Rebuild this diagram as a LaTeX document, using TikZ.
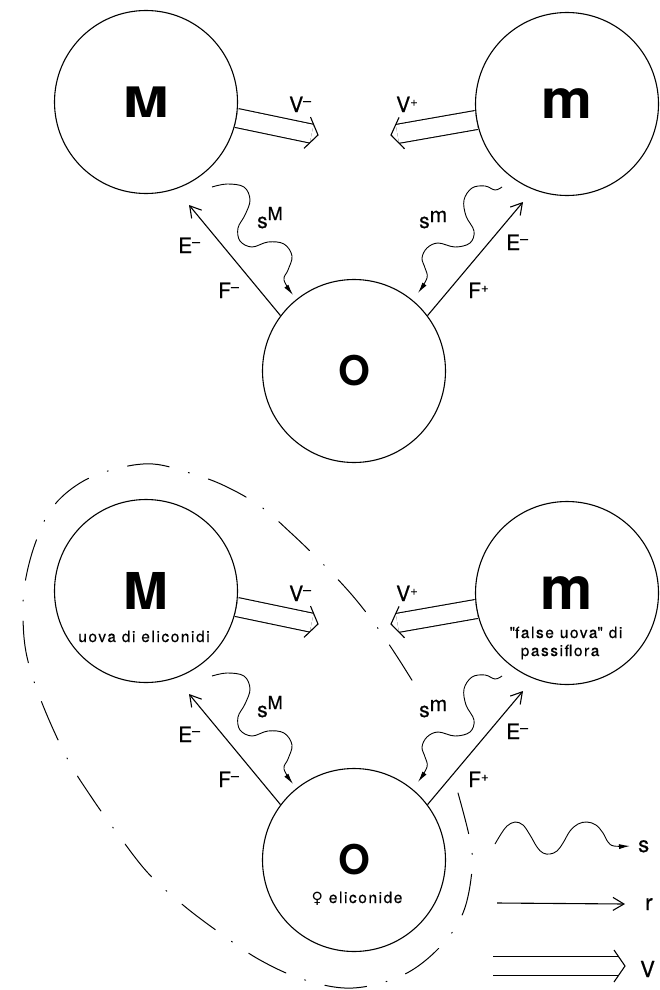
\documentclass[tikz,border=0pt]{standalone}
\usepackage{fontspec}
\setmainfont{TeX Gyre Heros}
\newfontfamily\symfont{DejaVu Sans}
\usetikzlibrary{arrows.meta,calc}
\pgfdeclarelayer{bg}
\pgfsetlayers{bg,main}
\newcommand\sminus{\raisebox{6.5pt}{\fontsize{14}{14}\selectfont –}}
\newcommand\splus{\raisebox{6pt}{\fontsize{13}{13}\selectfont +}}
\newcommand\bigletter[3]{\scalebox{#2}[1]{\fontsize{#1}{#1}\selectfont\bfseries #3}}
\tikzset{
  circ/.style={circle, draw, line width=1.1pt, minimum size=183pt, inner sep=0pt},
  lab/.style={font=\fontsize{21}{21}\selectfont\addfontfeature{FakeBold=0.6}, inner sep=0pt, anchor=base west},
  leglab/.style={font=\fontsize{22}{22}\selectfont\addfontfeature{FakeBold=0.6}, inner sep=0pt, anchor=base west},
  sub/.style={font=\fontsize{15.5}{15.5}\selectfont\addfontfeature{LetterSpace=10,FakeBold=0.4}, inner sep=0pt, anchor=base},
  straightarr/.style={line width=1.1pt, -{Straight Barb[length=11pt,width=13pt]}},
  wavearr/.style={line width=0.9pt, -{Latex[length=11pt,width=5pt]}},
  dblline/.style={double, double distance=18pt, line width=1.1pt},
  chev/.style={line width=1.1pt, line join=miter},
  dashdotline/.style={line width=1pt, line cap=round, dash pattern=on 42pt off 20pt on 1pt off 20pt},
}
% double (hollow) arrow from #1 to #2
\newcommand\dblarrow[2]{%
  \begin{pgfonlayer}{bg}
    \draw[dblline] (#1) -- ($(#2)!6.5pt!(#1)$);
  \end{pgfonlayer}
  \draw[chev] ($(#2)!11pt!(#1)!16pt!90:(#2)$) -- (#2) -- ($(#2)!11pt!(#1)!16pt!-90:(#2)$);
}
\newcommand\triad{%
  \node[circ] (Mc) at (146,102) {};
  \node[circ] (mc) at (567,104) {};
  \node[circ] (Oc) at (354,371) {};
  \coordinate (vmtip) at (318,135);
  \coordinate (vptip) at (391,135);
  \dblarrow{Mc.-10.6}{vmtip}
  \dblarrow{mc.190.8}{vptip}
  \coordinate (eltip) at (189,205);
  \coordinate (ertip) at (523,202);
  \draw[straightarr] (Oc.143.1) -- (eltip);
  \draw[straightarr] (Oc.37.8) -- (ertip);
  \coordinate (sMs) at (212,187);
  \coordinate (sMe) at (293,295);
  \draw[wavearr] plot[smooth, tension=0.6] coordinates {(sMs) (227,184) (244,187) (250,200) (245,215) (238,228) (240,241) (252,247) (268,242) (284,244) (292,256) (288,270) (284,280) (sMe)};
  \coordinate (sms) at (502,187);
  \coordinate (sme) at (418,293);
  \draw[wavearr] plot[smooth, tension=0.6] coordinates {(sms) (495,190) (485,186) (472,188) (464,200) (466,216) (474,231) (470,243) (455,247) (438,243) (427,248) (422,258) (425,268) (427,278) (sme)};
  \node[lab] (lvm) at (289,112) {V\sminus};
  \node[lab] (lvp) at (396,112) {V\splus};
  \node[lab] (lsM) at (257,228) {s\raisebox{8pt}{\fontsize{18}{18}\selectfont M}};
  \node[lab] (lsm) at (419,228) {s\raisebox{6pt}{m}};
  \node[lab] (lel) at (178,253) {E\sminus};
  \node[lab] (lfl) at (218,298) {F\sminus};
  \node[lab] (ler) at (506,250) {E\sminus};
  \node[lab] (lfr) at (468,298) {F\splus};
}
\begin{document}
\begin{tikzpicture}[x=1pt,y=-1pt]
\useasboundingbox (0,0) rectangle (659,990);
\begin{pgfonlayer}{bg}
  \fill[white] (0,0) rectangle (659,990);
\end{pgfonlayer}
\begin{scope}[name prefix=t-]
  \triad
  \node (tM) at (Mc.center) {\bigletter{42}{1.3}{M}};
  \node (tm) at (mc.center) {\bigletter{54.5}{1.05}{m}};
  \node (tO) at (Oc.center) {\bigletter{41}{1}{O}};
\end{scope}
\begin{scope}[yshift=-489pt, name prefix=b-]
  \triad
  \node (bM) at (Mc.center) {\bigletter{50.8}{1.06}{M}};
  \node (bm) at (mc.center) {\bigletter{60}{0.98}{m}};
  \node (bO) at (Oc.center) {\bigletter{41}{1}{O}};
  \node[sub] (Msub) at ([yshift=-51pt,xshift=-2pt]Mc.center) {uova di eliconidi};
  \node[sub] (msub1) at ([yshift=-45pt,xshift=-1pt]mc.center) {\textquotedbl false uova\textquotedbl{} di};
  \node[sub] (msub2) at ([yshift=-63pt,xshift=-7pt]mc.center) {passiflora};
  \node[sub] (Osub) at ([yshift=-43pt,xshift=3pt]Oc.center) {{\symfont ♀} eliconide};
\end{scope}
\draw[dashdotline] plot[smooth, tension=0.6] coordinates {(458,793) (470,840) (472,870) (463,913) (440,947) (403,975) (353,988) (305,980) (260,960) (220,933) (183,905) (148,873) (117,833) (92,798) (67,758) (42,703) (27,657) (23,618) (25,583) (35,544) (52,508) (80,483) (115,469) (153,464) (193,474) (225,486) (260,506) (291,533) (322,563) (352,595) (377,627) (398,658) (418,690)};
\coordinate (ws) at (495,844);
\coordinate (we) at (630,846);
\draw[wavearr] plot[smooth, tension=0.6] coordinates {(ws) (501,834) (507,826) (515,822) (523,825) (530,835) (537,847) (543,853) (550,854) (557,851) (563,843) (570,831) (578,824) (587,822) (596,825) (603,833) (608,842) (614,846) (we)};
\node[leglab] (ls) at (638,852) {s};
\coordinate (rs) at (497,903);
\coordinate (re) at (625,904);
\draw[straightarr] (rs) -- (re);
\node[leglab] (lr) at (645,910) {r};
\coordinate (vs) at (493,966);
\coordinate (ve) at (625,966);
\dblarrow{vs}{ve}
\node[leglab] (lv) at (640,977) {V};
\end{tikzpicture}
\end{document}
